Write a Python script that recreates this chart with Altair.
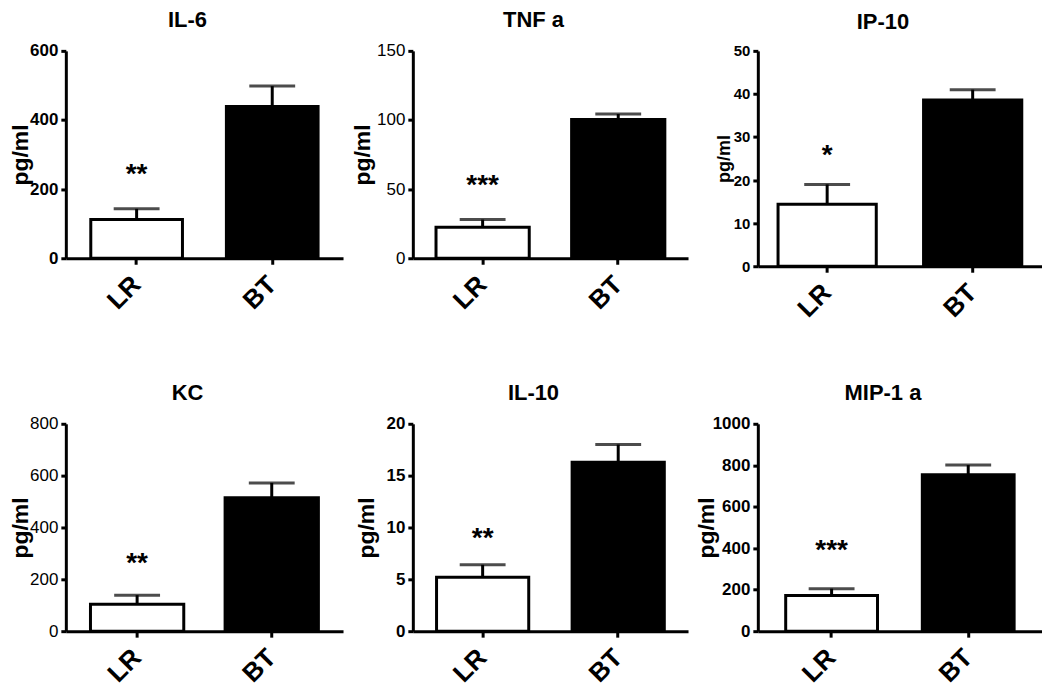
import altair as alt
import pandas as pd

# ---- data ----
cytokines = ["IL-6", "TNF a", "IP-10", "KC", "IL-10", "MIP-1 a"]
groups = ["LR", "BT"]
lr_mean = [112, 22.4, 14.4, 104, 5.2, 172]
lr_sem = [31, 5.6, 4.6, 35, 1.2, 33]
bt_mean = [439, 100.4, 38.6, 515, 16.3, 754]
bt_sem = [59, 3.9, 2.4, 57, 1.7, 47]
stars = ["**", "***", "*", "**", "**", "***"]
star_y = [251, 55, 26.5, 273, 9.3, 404]
y_max = [600, 150, 50, 800, 20, 1000]
y_step = [200, 50, 10, 200, 5, 200]

# ---- styling per panel ----
FONT = "Liberation Sans, Arial, Helvetica, sans-serif"
panel_w = [278, 276, 285, 278, 276, 285]
panel_h = [208, 208, 216, 208, 208, 208]
pad_inner = [0.324, 0.3125, 0.325, 0.307, 0.32, 0.328]
pad_outer = [0.184, 0.171, 0.139, 0.183, 0.175, 0.204]
label_weight = ["bold", "normal", "bold", "normal", "bold", "bold"]
label_size = [17, 17, 15, 17, 17, 17]
ytitle_size = [23, 23, 18, 23, 23, 23]
ytitle_x = [-56, -61, -42, -56, -57, -62]

panels = []
for i, name in enumerate(cytokines):
    df = pd.DataFrame({
        "group": groups,
        "mean": [lr_mean[i], bt_mean[i]],
        "upper": [lr_mean[i] + lr_sem[i], bt_mean[i] + bt_sem[i]],
    })
    sdf = pd.DataFrame({"group": [groups[0]], "y": [star_y[i]], "label": [stars[i]]})

    x_enc = alt.X(
        "group:N", sort=groups,
        scale=alt.Scale(paddingInner=pad_inner[i], paddingOuter=pad_outer[i]),
        axis=alt.Axis(
            title=None, labelAngle=-45, labelFontSize=26, labelFontWeight="bold",
            labelFont=FONT, labelColor="black", labelPadding=16,
            labelAlign="right", labelBaseline="middle",
            tickSize=6, tickWidth=3, tickColor="black",
            domainWidth=3, domainColor="black",
        ),
    )
    y_scale = alt.Scale(domain=[0, y_max[i]], nice=False, zero=True)
    y_axis = alt.Axis(
        values=list(range(0, y_max[i] + 1, y_step[i])), format="d",
        title="pg/ml", titleX=ytitle_x[i], titleBaseline="top", titleAngle=270,
        titleFontSize=ytitle_size[i], titleFontWeight="bold", titleFont=FONT,
        titleColor="black",
        labelFontSize=label_size[i], labelFontWeight=label_weight[i],
        labelFont=FONT, labelColor="black", labelPadding=3,
        tickSize=5, tickWidth=3, tickColor="black",
        domainWidth=3, domainColor="black", grid=False,
    )

    base = alt.Chart(df)
    bars = base.mark_bar(stroke="black", strokeWidth=3).encode(
        x=x_enc,
        y=alt.Y("mean:Q", scale=y_scale, axis=y_axis),
        fill=alt.Fill("group:N", scale=alt.Scale(domain=groups, range=["#ffffff", "#000000"]), legend=None),
    )
    err = base.mark_rule(color="black", strokeWidth=3).encode(
        x=alt.X("group:N", sort=groups), y="mean:Q", y2="upper:Q"
    )
    caps = base.mark_tick(color="black", thickness=3, size=46).encode(
        x=alt.X("group:N", sort=groups), y="upper:Q"
    )
    txt = alt.Chart(sdf).mark_text(
        fontSize=28, fontWeight="bold", font=FONT, color="black",
        baseline="alphabetic", dy=12,
    ).encode(x=alt.X("group:N", sort=groups), y="y:Q", text="label:N")

    panel = alt.layer(bars, err, caps, txt).properties(
        width=panel_w[i], height=panel_h[i],
        title=alt.TitleParams(
            text=name, fontSize=22, fontWeight="bold", font=FONT, color="black",
            anchor="middle", frame="group", offset=-7, baseline="alphabetic", dx=-17,
        ),
    )
    panels.append(panel)

chart = alt.concat(*panels, columns=3).properties(
    spacing={"row": 158, "column": 70},
    bounds="flush",
    align="each",
    padding={"left": 2, "top": 0, "right": 0, "bottom": 0},
    background="white",
).configure_view(stroke=None)

chart.save("out.html", embed_options={"renderer": "svg", "actions": False})
